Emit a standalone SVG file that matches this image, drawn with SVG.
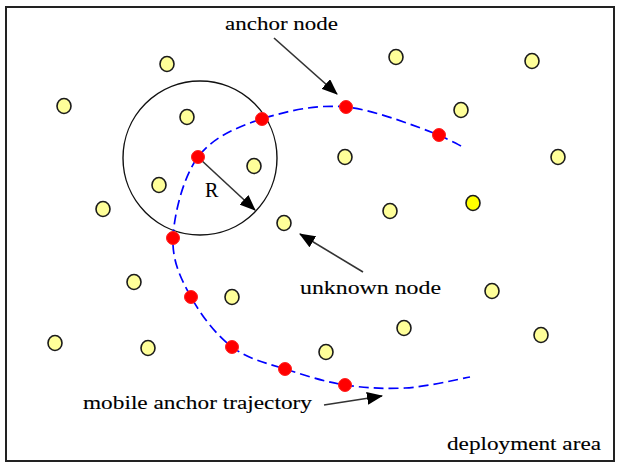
<svg xmlns="http://www.w3.org/2000/svg" width="619" height="464" viewBox="0 0 619 464">
<style>
.un{fill:#FFFF99;stroke:#1a1a1a;stroke-width:1.6}
.an{fill:#FF0000;stroke:#FF2020;stroke-width:1}
.lbl{font-family:"Liberation Serif","Times New Roman",serif;font-size:18px;fill:#000;stroke:#000;stroke-width:0.1}
.arr{stroke:#333;stroke-width:1.6;fill:none;marker-end:url(#ah)}
.traj{stroke:#0000FF;stroke-width:1.7;fill:none;stroke-dasharray:10 5}
</style>
<defs>
<marker id="ah" markerUnits="userSpaceOnUse" markerWidth="17" markerHeight="13" refX="15" refY="6.5" orient="auto">
<path d="M0,0 L16,6.5 L0,13 Z" fill="#000"/>
</marker>
</defs>
<rect x="6" y="7" width="608" height="454" fill="#fff" stroke="#222" stroke-width="2"/>
<g id="connectors">
<circle id="range" cx="200" cy="158" r="77" fill="none" stroke="#111" stroke-width="1.4"/>
<path id="trajectory" class="traj" d="M461,146 C458,144 445,138 439,135 C420,128 376,110 346,107 C316,104 287,111 262,119 C237,127 213,137 198,157 C183,177 174,215 173,238 C172,261 181,279 191,297 C201,315 216,335 232,347 C248,359 266,363 285,369 C304,375 325,382 345,385 C365,388 384,389 405,388 C426,387 459,379 470,377"/>
<line class="arr" x1="274" y1="38" x2="337" y2="94"/>
<line class="arr" x1="200" y1="159" x2="255" y2="210"/>
<line class="arr" x1="363" y1="272" x2="300" y2="234"/>
<line class="arr" x1="324" y1="405" x2="382" y2="396"/>
</g>
<g id="unknown-nodes">
<g id="u1"><ellipse class="un" cx="167" cy="64" rx="7" ry="7.5"/></g>
<g id="u2"><ellipse class="un" cx="396" cy="57" rx="7" ry="7.5"/></g>
<g id="u3"><ellipse class="un" cx="532" cy="61" rx="7" ry="7.5"/></g>
<g id="u4"><ellipse class="un" cx="64" cy="106" rx="7" ry="7.5"/></g>
<g id="u5"><ellipse class="un" cx="187" cy="117" rx="7" ry="7.5"/></g>
<g id="u6"><ellipse class="un" cx="461" cy="110" rx="7" ry="7.5"/></g>
<g id="u7"><ellipse class="un" cx="254" cy="166" rx="7" ry="7.5"/></g>
<g id="u8"><ellipse class="un" cx="345" cy="157" rx="7" ry="7.5"/></g>
<g id="u9"><ellipse class="un" cx="558" cy="157" rx="7" ry="7.5"/></g>
<g id="u10"><ellipse class="un" cx="159" cy="185" rx="7" ry="7.5"/></g>
<g id="u11"><ellipse class="un" cx="103" cy="209" rx="7" ry="7.5"/></g>
<g id="u12"><ellipse class="un" cx="390" cy="211" rx="7" ry="7.5"/></g>
<g id="u13"><ellipse class="un" cx="473" cy="203" rx="7" ry="7.5" style="fill:#FFFF00"/></g>
<g id="u14"><ellipse class="un" cx="284" cy="223" rx="7" ry="7.5"/></g>
<g id="u15"><ellipse class="un" cx="134" cy="282" rx="7" ry="7.5"/></g>
<g id="u16"><ellipse class="un" cx="232" cy="297" rx="7" ry="7.5"/></g>
<g id="u17"><ellipse class="un" cx="492" cy="291" rx="7" ry="7.5"/></g>
<g id="u18"><ellipse class="un" cx="404" cy="328" rx="7" ry="7.5"/></g>
<g id="u19"><ellipse class="un" cx="541" cy="335" rx="7" ry="7.5"/></g>
<g id="u20"><ellipse class="un" cx="55" cy="343" rx="7" ry="7.5"/></g>
<g id="u21"><ellipse class="un" cx="148" cy="348" rx="7" ry="7.5"/></g>
<g id="u22"><ellipse class="un" cx="326" cy="352" rx="7" ry="7.5"/></g>
</g>
<g id="anchor-nodes">
<g id="a1"><circle class="an" cx="439" cy="135" r="6.5"/></g>
<g id="a2"><circle class="an" cx="346" cy="107" r="6.5"/></g>
<g id="a3"><circle class="an" cx="262" cy="119" r="6.5"/></g>
<g id="a4"><circle class="an" cx="198" cy="157" r="6.5"/></g>
<g id="a5"><circle class="an" cx="173" cy="238" r="6.5"/></g>
<g id="a6"><circle class="an" cx="191" cy="297" r="6.5"/></g>
<g id="a7"><circle class="an" cx="232" cy="347" r="6.5"/></g>
<g id="a8"><circle class="an" cx="285" cy="369" r="6.5"/></g>
<g id="a9"><circle class="an" cx="345" cy="385" r="6.5"/></g>
</g>
<g id="labels">
<text class="lbl" x="225" y="30" textLength="113" lengthAdjust="spacingAndGlyphs">anchor node</text>
<text class="lbl" x="205" y="197" style="font-size:20px">R</text>
<text class="lbl" x="300" y="294" textLength="141" lengthAdjust="spacingAndGlyphs">unknown node</text>
<text class="lbl" x="83" y="409" textLength="229" lengthAdjust="spacingAndGlyphs">mobile anchor trajectory</text>
<text class="lbl" x="447" y="450" textLength="154" lengthAdjust="spacingAndGlyphs">deployment area</text>
</g>
</svg>
